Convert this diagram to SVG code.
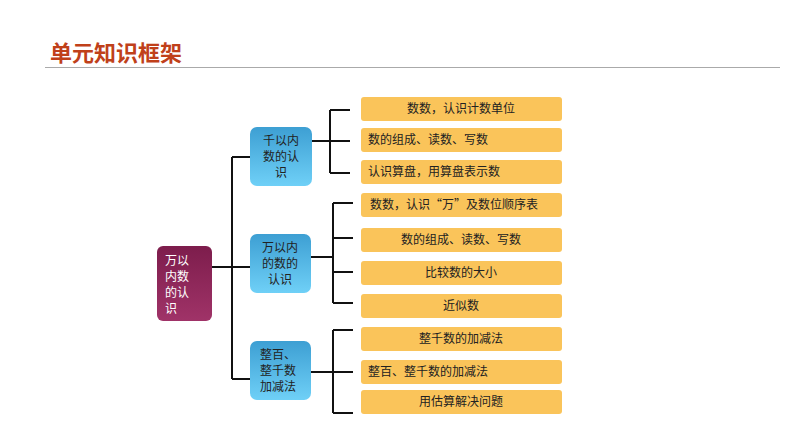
<svg xmlns="http://www.w3.org/2000/svg" width="794" height="447" viewBox="0 0 794 447">
<defs>
<linearGradient id="gb" x1="0" y1="0" x2="0" y2="1"><stop offset="0" stop-color="#3d9fd3"/><stop offset="1" stop-color="#6fd0f7"/></linearGradient>
<linearGradient id="gr" x1="0" y1="0" x2="0" y2="1"><stop offset="0" stop-color="#7d1d4c"/><stop offset="1" stop-color="#a03368"/></linearGradient>
</defs>
<style>
text{font-family:"Noto Sans CJK SC","Noto Sans",sans-serif;font-size:12px;fill:#222}
.leaf rect{fill:#fac45a}
.mid rect{fill:url(#gb)}
.c{stroke:#111;stroke-width:2;fill:none}
</style>
<rect width="794" height="447" fill="#fff"/>
<text x="50" y="61" style="font-size:22px;font-weight:bold;fill:#c0401a">单元知识框架</text>
<line x1="45" y1="67.5" x2="780" y2="67.5" stroke="#aaa"/>
<g id="connectors" class="c">
<path d="M212 267H250M232 157V379M232 157H250M232 379H250"/>
<path d="M312 141H330M330 110V173M330 110H350M330 141H350M330 173H350"/>
<path d="M311 257H333M333 203V303M333 203H353M333 238H353M333 272H353M333 303H353"/>
<path d="M311 372H333M333 330V413M333 330H353M333 372H353M333 413H353"/>
</g>
<g id="root"><rect x="157" y="246" width="55" height="75" rx="6" fill="url(#gr)"/>
<text x="165" y="265" style="fill:#fff">万以</text><text x="165" y="281" style="fill:#fff">内数</text><text x="165" y="297" style="fill:#fff">的认</text><text x="165" y="313" style="fill:#fff">识</text></g>
<g id="m1" class="mid"><rect x="250" y="127" width="62" height="59" rx="7"/>
<text x="281" y="145" text-anchor="middle">千以内</text><text x="281" y="161" text-anchor="middle">数的认</text><text x="281" y="177" text-anchor="middle">识</text></g>
<g id="m2" class="mid"><rect x="250" y="234" width="61" height="59" rx="7"/>
<text x="280" y="252" text-anchor="middle">万以内</text><text x="280" y="268" text-anchor="middle">的数的</text><text x="280" y="284" text-anchor="middle">认识</text></g>
<g id="m3" class="mid"><rect x="250" y="341" width="61" height="59" rx="7"/>
<text x="260" y="359">整百、</text><text x="260" y="375">整千数</text><text x="260" y="391">加减法</text></g>
<g class="leaf">
<g id="l1"><rect x="361" y="97" width="201" height="24" rx="3"/><text x="461" y="113" text-anchor="middle">数数，认识计数单位</text></g>
<g id="l2"><rect x="361" y="128" width="201" height="24" rx="3"/><text x="368" y="144">数的组成、读数、写数</text></g>
<g id="l3"><rect x="361" y="160" width="201" height="24" rx="3"/><text x="368" y="176">认识算盘，用算盘表示数</text></g>
<g id="l4"><rect x="361" y="193" width="201" height="24" rx="3"/><text x="370" y="209">数数，认识“万”及数位顺序表</text></g>
<g id="l5"><rect x="361" y="228" width="201" height="24" rx="3"/><text x="461" y="244" text-anchor="middle">数的组成、读数、写数</text></g>
<g id="l6"><rect x="361" y="261" width="201" height="24" rx="3"/><text x="461" y="277" text-anchor="middle">比较数的大小</text></g>
<g id="l7"><rect x="361" y="294" width="201" height="24" rx="3"/><text x="461" y="310" text-anchor="middle">近似数</text></g>
<g id="l8"><rect x="361" y="327" width="201" height="24" rx="3"/><text x="461" y="343" text-anchor="middle">整千数的加减法</text></g>
<g id="l9"><rect x="361" y="360" width="201" height="24" rx="3"/><text x="368" y="376">整百、整千数的加减法</text></g>
<g id="l10"><rect x="361" y="390" width="201" height="24" rx="3"/><text x="461" y="406" text-anchor="middle">用估算解决问题</text></g>
</g>
</svg>
